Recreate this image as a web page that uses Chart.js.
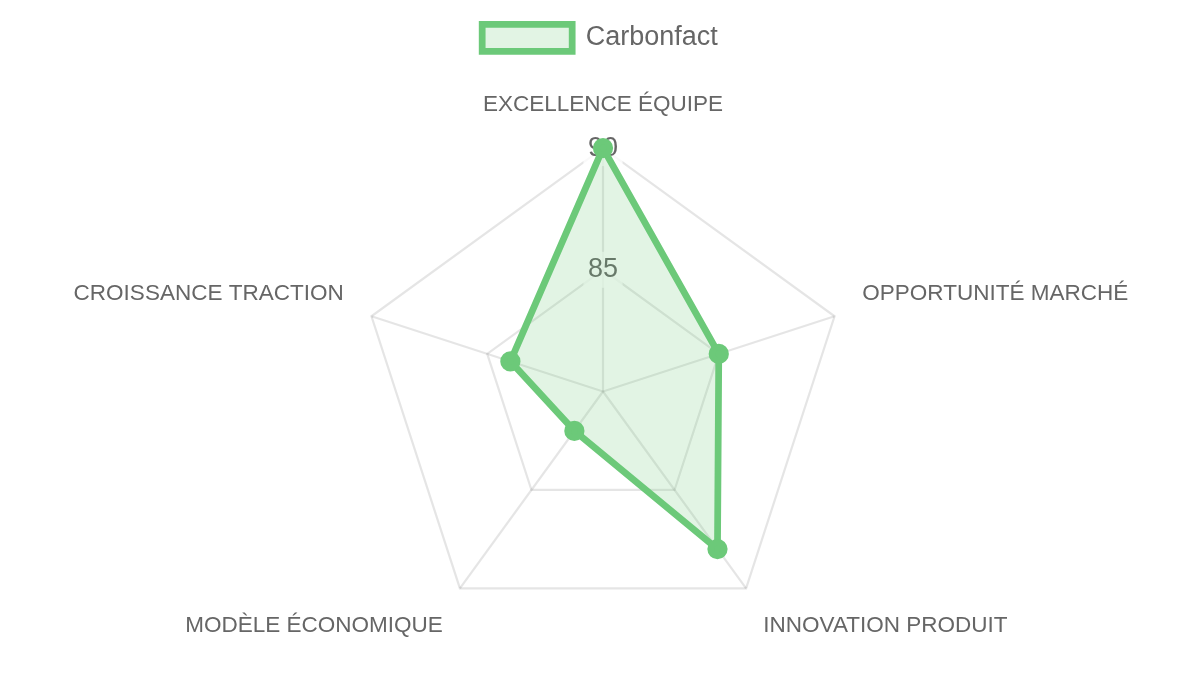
<!DOCTYPE html>
<html>
<head>
<meta charset="utf-8">
<script src="https://cdn.jsdelivr.net/npm/chart.js@4"></script>
<style>
    html, body { margin: 0; padding: 0; background: #fff; overflow: hidden; }
    /* chart is laid out at 533x300 and scaled up 2.25x, drawn at full resolution */
    #wrap {
        position: absolute; left: 0; top: 0;
        width: 533.3px; height: 300px;
        transform: scale(2.25); transform-origin: 0 0;
    }
</style>
</head>
<body>
<div id="wrap"><canvas id="radarChart"></canvas></div>
<script>
const labels = ["EXCELLENCE ÉQUIPE", "OPPORTUNITÉ MARCHÉ", "INNOVATION PRODUIT", "MODÈLE ÉCONOMIQUE", "CROISSANCE TRACTION"];
const seriesName = "Carbonfact";
const scores = [90, 85, 88, 82, 84];
const scaleMin = 80;
const scaleMax = 90;
const tickStep = 5;

document.addEventListener("DOMContentLoaded", () => {
    Chart.defaults.font.family = "'Liberation Sans', Arial, sans-serif";
    Chart.defaults.color = "#666";

    // keep the legend centred on the page while the radar is nudged right
    const legendNudge = {
        id: "legendNudge",
        afterLayout(chart) {
            if (chart.legend) {
                chart.legend.left -= 1.75;
                chart.legend.right -= 1.75;
            }
        }
    };

    const ctx = document.getElementById("radarChart").getContext("2d");
    new Chart(ctx, {
        type: "radar",
        data: {
            labels: labels,
            datasets: [{
                label: seriesName,
                data: scores,
                borderColor: "rgb(108, 201, 121)",
                backgroundColor: "rgba(108, 201, 121, 0.2)",
                pointBackgroundColor: "rgb(108, 201, 121)",
                pointBorderColor: "rgb(108, 201, 121)",
                borderWidth: 3,
                pointRadius: 3
            }]
        },
        options: {
            responsive: true,
            maintainAspectRatio: false,
            devicePixelRatio: 2.25,
            animation: false,
            layout: { padding: { left: 3.5, top: 0.8 } },
            plugins: {
                legend: { position: "top" },
                tooltip: { enabled: false }
            },
            scales: {
                r: {
                    min: scaleMin,
                    max: scaleMax,
                    ticks: { stepSize: tickStep }
                }
            }
        },
        plugins: [legendNudge]
    });
});
</script>
</body>
</html>
